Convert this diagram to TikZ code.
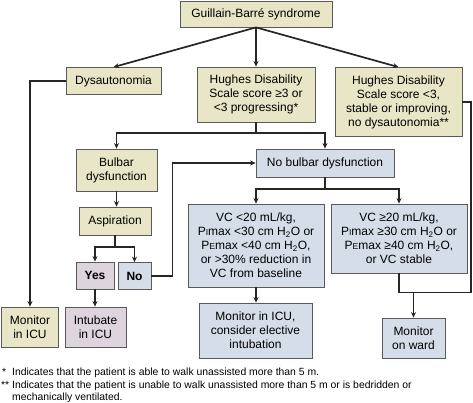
\documentclass[tikz,border=0pt]{standalone}
\usepackage{fontspec}
\setmainfont{Liberation Sans}
\usetikzlibrary{arrows.meta}
\definecolor{ybox}{HTML}{E8E6C6}
\definecolor{pbox}{HTML}{DDD4DE}
\definecolor{bbox}{HTML}{D5DEE8}
\definecolor{bord}{HTML}{5A5A5A}
\newcommand{\smI}{{\fontsize{8.6}{9}\selectfont I}}
\newcommand{\smE}{{\fontsize{8.6}{9}\selectfont E}}
\begin{document}
\begin{tikzpicture}[x=1pt,y=-1pt,
  box/.style={draw=bord,line width=0.8pt,inner sep=0pt,align=center,font=\fontsize{12}{14}\selectfont},
  yb/.style={box,fill=ybox},
  pb/.style={box,fill=pbox},
  bb/.style={box,fill=bbox},
  ln/.style={line width=1.7pt,black!85},
  arr/.style={ln,-{Stealth[length=5.5pt,width=5pt]}},
  fn/.style={anchor=base west,inner sep=0pt,font=\fontsize{10.4}{12}\selectfont}]
\useasboundingbox (0,0) rectangle (473,403);
\fill[white] (0,0) rectangle (473,403);
% boxes
\node[yb,minimum width=152pt,minimum height=26pt] (gbs) at (256,14) {Guillain-Barré syndrome};
\node[yb,minimum width=95pt,minimum height=27pt] (dys) at (113.5,81) {Dysautonomia};
\node[yb,minimum width=118pt,minimum height=55pt] (h1) at (256,94.5) {Hughes Disability\\Scale score ≥3 or\\<3 progressing*};
\node[yb,minimum width=127pt,minimum height=69pt] (h2) at (398.5,102) {Hughes Disability\\Scale score <3,\\stable or improving,\\no dysautonomia**};
\node[yb,minimum width=81pt,minimum height=42pt] (bul) at (116.5,170) {Bulbar\\dysfunction};
\node[yb,minimum width=72pt,minimum height=28pt] (asp) at (115,221) {Aspiration};
\node[pb,minimum width=38pt,minimum height=27pt,font=\fontsize{12}{14}\selectfont\bfseries] (yes) at (95,275.5) {Yes};
\node[bb,minimum width=33pt,minimum height=27pt,font=\fontsize{12}{14}\selectfont\bfseries] (no) at (134.5,276) {No};
\node[bb,minimum width=138pt,minimum height=28pt] (nob) at (325,163) {No bulbar dysfunction};
\node[bb,minimum width=136pt,minimum height=83pt] (vc1) at (256,245.5) {VC <20 mL/kg,\\P\smI max <30 cm H\textsubscript{2}O or\\P\smE max <40 cm H\textsubscript{2}O,\\or >30\% reduction in\\VC from baseline};
\node[bb,minimum width=136pt,minimum height=69pt] (vc2) at (399,238.5) {VC ≥20 mL/kg,\\P\smI max ≥30 cm H\textsubscript{2}O or\\P\smE max ≥40 cm H\textsubscript{2}O,\\or VC stable};
\node[yb,minimum width=57pt,minimum height=40pt] (micu) at (30,327) {Monitor\\in ICU};
\node[pb,minimum width=61pt,minimum height=40pt] (int) at (95.5,327) {Intubate\\in ICU};
\node[bb,minimum width=113pt,minimum height=55pt] (mcon) at (255.5,330.5) {Monitor in ICU,\\consider elective\\intubation};
\node[bb,minimum width=63pt,minimum height=40pt] (mw) at (413.5,338) {Monitor\\on ward};
% connectors
\draw[arr] (gbs.south) -- (dys.north);
\draw[arr] (gbs.south) -- (h1.north);
\draw[arr] (gbs.south) -- (h2.north);
\draw[arr] (dys.west) -| (micu.north);
\coordinate (j1) at (256,133);
\draw[ln] (h1.south) -- (j1);
\draw[arr] (j1) -| (bul.north);
\draw[arr] (j1) -| (nob.north);
\draw[arr] (bul.south) -- (asp.north -| bul.south);
\coordinate (j3) at (115,247);
\draw[ln] (asp.south) -- (j3);
\draw[arr] (j3) -| (yes.north);
\draw[arr] (j3) -| (no.north);
\draw[arr] (yes.south) -- (int.north -| yes.south);
\coordinate (k1) at (172.5,276);
\draw[arr] (no.east) -- (k1) |- (nob.west);
\coordinate (j4) at (325,189);
\draw[ln] (nob.south) -- (j4);
\draw[arr] (j4) -| (vc1.north);
\draw[arr] (j4) -| (vc2.north);
\draw[arr] (vc1.south) -- (mcon.north -| vc1.south);
\coordinate (j2) at (413.5,292.5);
\coordinate (k2) at (471,102);
\draw[ln] (h2.east) -- (k2) |- (j2);
\draw[ln] (vc2.south) |- (j2);
\draw[arr] (j2) -- (mw.north);
% footnotes
\node[fn] (s1) at (2,375) {*};
\node[fn] (f1) at (12,375) {Indicates that the patient is able to walk unassisted more than 5 m.};
\node[fn] (s2) at (1,388) {**};
\node[fn] (f2) at (12,388) {Indicates that the patient is unable to walk unassisted more than 5 m or is bedridden or};
\node[fn] (f3) at (12,400) {mechanically ventilated.};
\end{tikzpicture}
\end{document}
